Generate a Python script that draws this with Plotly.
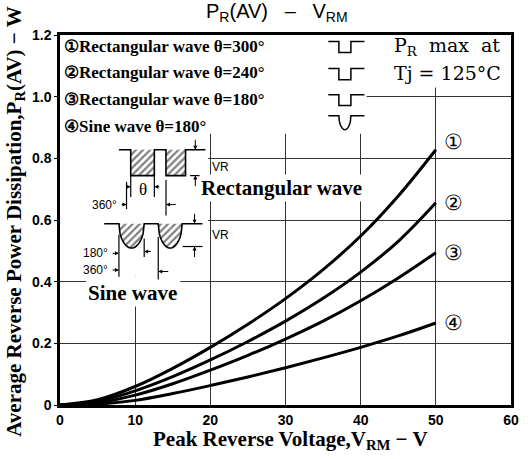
import numpy as np
import plotly.graph_objects as go

# ---- data ----
voltage = [0, 5, 10, 15, 20, 25, 30, 35, 40, 45, 50]
rect_300 = [0, 0.017, 0.060, 0.119, 0.187, 0.262, 0.345, 0.439, 0.548, 0.678, 0.828]
rect_240 = [0, 0.012, 0.046, 0.092, 0.146, 0.206, 0.272, 0.346, 0.431, 0.531, 0.656]
rect_180 = [0, 0.007, 0.032, 0.069, 0.113, 0.161, 0.214, 0.272, 0.338, 0.412, 0.494]
sine_180 = [0, 0.003, 0.015, 0.037, 0.063, 0.091, 0.121, 0.153, 0.187, 0.224, 0.266]
series = [rect_300, rect_240, rect_180, sine_180]
curve_marks = ["①", "②", "③", "④"]
x_ticks = [0, 10, 20, 30, 40, 50, 60]
y_ticks = [0, 0.2, 0.4, 0.6, 0.8, 1.0, 1.2]
y_ticktext = ["0", "0.2", "0.4", "0.6", "0.8", "1.0", "1.2"]
legend_lines = ["①Rectangular wave θ=300°", "②Rectangular wave θ=240°",
                "③Rectangular wave θ=180°", "④Sine wave θ=180°"]

SERIF = "Liberation Serif"
WSERIF = "DejaVu Serif"
SANS = "Liberation Sans"

fig = go.Figure()

for vals in series:
    fig.add_trace(go.Scatter(x=voltage, y=vals, mode="lines",
                             line=dict(color="black", width=3, shape="spline", smoothing=1.0),
                             showlegend=False, hoverinfo="skip"))

shapes = []
annotations = []

def seg(x0, y0, x1, y1, w=1.2):
    shapes.append(dict(type="line", x0=x0, y0=y0, x1=x1, y1=y1, xref="x", yref="y",
                       line=dict(color="black", width=w), layer="above"))

def path(xs, ys, w=1.6):
    d = "M " + " L ".join(f"{a},{b}" for a, b in zip(xs, ys))
    shapes.append(dict(type="path", path=d, xref="x", yref="y",
                       line=dict(color="black", width=w), layer="above"))

def arrow(x_tip, y_tip, x_tail, y_tail):
    annotations.append(dict(x=x_tip, y=y_tip, ax=x_tail, ay=y_tail, xref="x", yref="y",
                            axref="x", ayref="y", text="", showarrow=True, arrowhead=2,
                            arrowsize=0.8, arrowwidth=1, arrowcolor="black"))

def white(x0, x1, y0, y1):
    shapes.append(dict(type="rect", x0=x0, x1=x1, y0=y0, y1=y1, xref="x", yref="y",
                       fillcolor="white", line=dict(width=0), layer="between"))

def hatch(xs, ys):
    fig.add_trace(go.Scatter(x=xs, y=ys, mode="lines", fill="toself",
                             fillpattern=dict(shape="/", fgcolor="black", bgcolor="white",
                                              size=5, solidity=0.45),
                             line=dict(color="rgba(0,0,0,0)", width=0),
                             showlegend=False, hoverinfo="skip"))

# covering boxes over grid
white(0, 40.8, 0.88, 1.2)
white(40.8, 60, 1.03, 1.2)
white(0, 19.7, 0.42, 0.88)
white(3.5, 16, 0.32, 0.42)

# ---- rectangular wave inset ----
rt, rb = 0.828, 0.744
d1 = (9.41, 12.55)
d2 = (14.1, 16.7)
for a, b in (d1, d2):
    hatch([a, b, b, a, a], [rt, rt, rb, rb, rt])
path([7.84, d1[0], d1[0], d1[1], d1[1], d2[0], d2[0], d2[1], d2[1], 19.35],
     [rt, rt, rb, rb, rt, rt, rb, rb, rt, rt])
seg(d1[0], rb, d1[0], 0.675)
seg(d1[1], rb, d1[1], 0.675)
arrow(d1[0], 0.708, 8.6, 0.708)
arrow(d1[1], 0.708, 13.4, 0.708)
seg(8.85, 0.724, 8.85, 0.635)
seg(d2[0], 0.73, d2[0], 0.615)
arrow(8.85, 0.65, 8.0, 0.65)
arrow(d2[0], 0.65, 15.6, 0.65)
seg(17.3, rb, 18.7, rb)
arrow(18.0, rt, 18.0, 0.865)
arrow(18.0, rb, 18.0, 0.705)

# ---- sine wave inset ----
st, sb = 0.588, 0.509
s1 = (7.84, 11.2)
s2 = (13.07, 16.25)
tt = np.linspace(0, 1, 25)
def dip(a, b):
    xs = a + (b - a) * tt
    ys = st - (st - sb) * np.sin(np.pi * tt) ** 0.45
    return list(xs), list(ys)
px, py = [5.88], [st]
for a, b in (s1, s2):
    xs, ys = dip(a, b)
    hatch(xs + [xs[0]], ys + [ys[0]])
    px += xs
    py += ys
px.append(18.95)
py.append(st)
path(px, py)
seg(s1[0], 0.552, s1[0], 0.416)
seg(s1[1], 0.54, s1[1], 0.48)
seg(s2[0], 0.545, s2[0], 0.405)
arrow(s1[0], 0.492, 6.8, 0.492)
arrow(s1[1], 0.498, 12.3, 0.498)
arrow(s1[0], 0.438, 6.8, 0.438)
arrow(s2[0], 0.433, 14.6, 0.433)
seg(16.3, 0.514, 18.95, 0.514)
arrow(17.9, st, 17.9, 0.625)
arrow(17.9, 0.514, 17.9, 0.475)

# ---- legend icons ----
icon_rows = [(1.179, 1.143), (1.091, 1.055), (1.006, 0.971)]
for top, bot in icon_rows:
    path([35.7, 37.1, 37.1, 38.7, 38.7, 40.5], [top, top, bot, bot, top, top], w=1.5)
xs = 37.1 + (38.7 - 37.1) * tt
ys = 0.938 - (0.938 - 0.893) * np.sin(np.pi * tt) ** 0.45
path([35.7] + list(xs) + [40.5], [0.938] + list(ys) + [0.938], w=1.5)

# ---- texts ----
def txt(x, y, s, size, family=SERIF, weight="bold", xanchor="center", bg=None):
    d = dict(x=x, y=y, xref="x", yref="y", text=s, showarrow=False, xanchor=xanchor,
             yanchor="middle", font=dict(family=family, size=size, color="black", weight=weight))
    if bg:
        d["bgcolor"] = bg
    annotations.append(d)

for s, y in zip(legend_lines, [1.163, 1.077, 0.99, 0.903]):
    txt(0.2, y, s, 17, xanchor="left")
txt(44.2, 1.163, "P<sub>R</sub>  max  at", 19, family=WSERIF, weight="normal", xanchor="left")
txt(44.2, 1.077, "Tj = 125°C", 19, family=WSERIF, weight="normal", xanchor="left")

txt(29.5, 0.705, "Rectangular wave", 21, bg="white")
txt(9.7, 0.364, "Sine wave", 21, bg="white")
txt(20.0, 0.773, "VR", 12, family=SANS, weight="normal", xanchor="left")
txt(19.9, 0.552, "VR", 12, family=SANS, weight="normal", xanchor="left")
txt(10.98, 0.70, "θ", 17, weight="normal")
txt(7.9, 0.65, "360°", 12, family=SANS, weight="normal", xanchor="right")
txt(6.7, 0.492, "180°", 12, family=SANS, weight="normal", xanchor="right")
txt(6.7, 0.438, "360°", 12, family=SANS, weight="normal", xanchor="right")

for m, vals in zip(curve_marks, series):
    off = 0.025 if m == "①" else 0.0
    txt(52.4, vals[-1] + off, m, 21, weight="normal")

# titles (paper coords)
annotations.append(dict(x=0.481, y=1.06, xref="paper", yref="paper", showarrow=False,
                        xanchor="center", yanchor="middle",
                        text="P<sub>R</sub>(AV)   –   V<sub>RM</sub>",
                        font=dict(family=SANS, size=20, color="black")))
annotations.append(dict(x=0.512, y=-0.095, xref="paper", yref="paper", showarrow=False,
                        xanchor="center", yanchor="middle",
                        text="Peak Reverse Voltage,V<sub>RM</sub> − V",
                        font=dict(family=SERIF, size=21, color="black", weight="bold")))
annotations.append(dict(x=-0.1, y=0.495, xref="paper", yref="paper", showarrow=False,
                        xanchor="center", yanchor="middle", textangle=-90,
                        text="Average Reverse Power Dissipation,P<sub>R</sub>(AV) − W",
                        font=dict(family=SERIF, size=21, color="black", weight="bold")))

fig.update_layout(
    width=531, height=459,
    margin=dict(l=60, r=12, t=35, b=54),
    paper_bgcolor="white", plot_bgcolor="white",
    showlegend=False,
    shapes=shapes, annotations=annotations,
    xaxis=dict(range=[0, 60], tickvals=x_ticks, showgrid=True, gridcolor="#333", gridwidth=1,
               showline=True, mirror=True, linecolor="black", linewidth=2.5, zeroline=False,
               ticks="", tickfont=dict(family=SANS, size=14, color="black", weight="bold"),
               fixedrange=True),
    yaxis=dict(range=[0, 1.2], tickvals=y_ticks, ticktext=y_ticktext, showgrid=True,
               gridcolor="#333", gridwidth=1, showline=True, mirror=True, linecolor="black",
               linewidth=2.5, zeroline=False, ticks="outside", ticklen=3, tickcolor="black",
               tickfont=dict(family=SANS, size=14, color="black", weight="bold"),
               fixedrange=True),
)

fig.write_html("out.html", config={"displayModeBar": False},
               post_script="document.body.style.margin='0';")
